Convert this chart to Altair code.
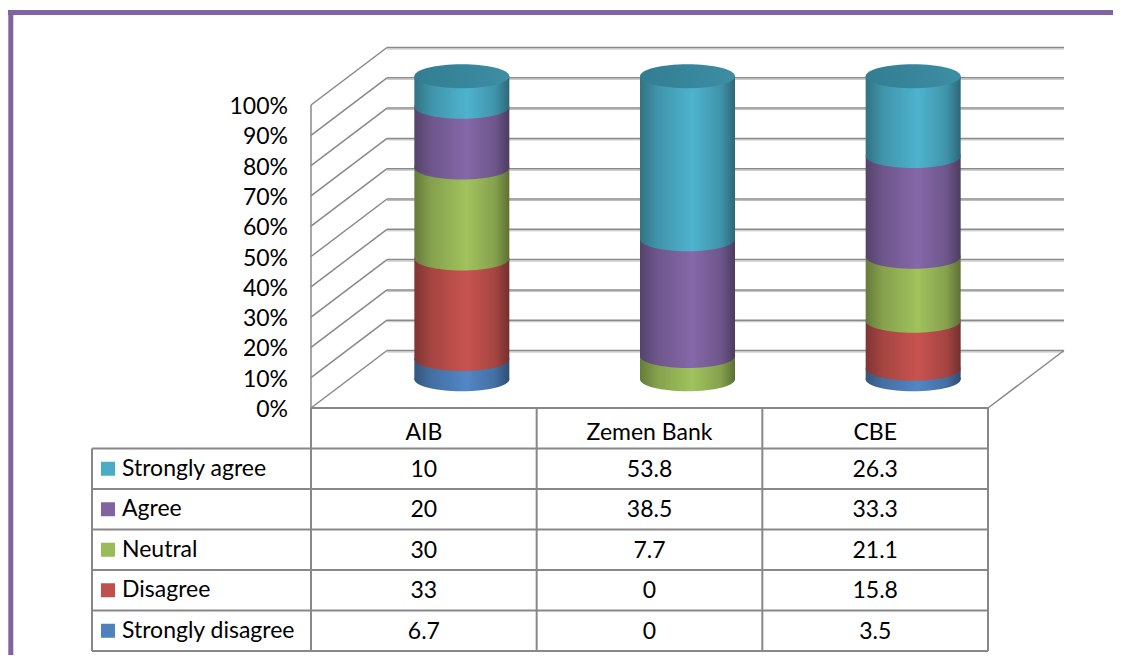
import altair as alt
import pandas as pd

# ---------------- data ----------------
banks = ["AIB", "Zemen Bank", "CBE"]
series_order = ["Strongly disagree", "Disagree", "Neutral", "Agree", "Strongly agree"]
strongly_disagree = [6.7, 0, 3.5]
disagree = [33, 0, 15.8]
neutral = [30, 7.7, 21.1]
agree = [20, 38.5, 33.3]
strongly_agree = [10, 53.8, 26.3]
tick_values = [0, 10, 20, 30, 40, 50, 60, 70, 80, 90, 100]
tick_labels = ["0%", "10%", "20%", "30%", "40%", "50%", "60%", "70%", "80%", "90%", "100%"]

series_values = {
    "Strongly disagree": strongly_disagree,
    "Disagree": disagree,
    "Neutral": neutral,
    "Agree": agree,
    "Strongly agree": strongly_agree,
}
series_colors = {
    "Strongly disagree": "#4F81BD",
    "Disagree": "#C0504D",
    "Neutral": "#9BBB59",
    "Agree": "#8064A2",
    "Strongly agree": "#4BACC6",
}
table_order = list(reversed(series_order))  # top row first

# ---------------- geometry / style ----------------
W, H = 1105, 647
UNIT = 225.67          # px per category column
PCT = 3.03             # px per percent
X0, Y0 = 303.0, 400.0  # px position of column 0 / 0%
XDOM = [-X0 / UNIT, (W - X0) / UNIT]
YDOM = [(Y0 - H) / PCT, Y0 / PCT]
DX = 76 / UNIT         # depth offset of back wall
DY = 57.5 / PCT
CX, CY = DX / 2, DY / 2
HALF = 47.5 / UNIT
ROW = 40.5 / PCT
LEG_X = -219 / UNIT
NCAT = len(banks)
FONT = "Lato"
FS = 23
LINE = "#888888"

xs = alt.Scale(domain=XDOM, nice=False, zero=False)
ys = alt.Scale(domain=YDOM, nice=False, zero=False)


def X(f):
    return alt.X(f, type="quantitative", scale=xs, axis=None)


def Y(f):
    return alt.Y(f, type="quantitative", scale=ys, axis=None)


def shade(hexc, f):
    r, g, b = int(hexc[1:3], 16), int(hexc[3:5], 16), int(hexc[5:7], 16)
    c = [max(0, min(255, int(round(v * f)))) for v in (r, g, b)]
    return "#%02x%02x%02x" % tuple(c)


def grad(hexc):
    return alt.Gradient(
        gradient="linear", x1=0, x2=1, y1=0, y2=0,
        stops=[
            alt.GradientStop(offset=0, color=shade(hexc, 0.66)),
            alt.GradientStop(offset=0.18, color=shade(hexc, 0.86)),
            alt.GradientStop(offset=0.55, color=shade(hexc, 1.04)),
            alt.GradientStop(offset=0.85, color=shade(hexc, 0.86)),
            alt.GradientStop(offset=1, color=shade(hexc, 0.6)),
        ],
    )


# ellipse symbol path (bezier)
r = 12 / 47.5
k = 0.5523
ELL = (
    f"M -1 0 C -1 {-r*k:.4f} {-k:.4f} {-r:.4f} 0 {-r:.4f} "
    f"C {k:.4f} {-r:.4f} 1 {-r*k:.4f} 1 0 "
    f"C 1 {r*k:.4f} {k:.4f} {r:.4f} 0 {r:.4f} "
    f"C {-k:.4f} {r:.4f} -1 {r*k:.4f} -1 0 Z"
)
ELL_SIZE = 95 * 95

# ---------------- derived tables ----------------
seg_rows = []
cap_rows = []
for i, b in enumerate(banks):
    total = sum(series_values[s][i] for s in series_order)
    cum = 0.0
    for s in series_order:
        v = series_values[s][i]
        lo = cum / total * 100
        cum += v
        hi = cum / total * 100
        if v > 0:
            seg_rows.append(dict(bank=b, series=s, xl=i + 0.5 + CX - HALF,
                                 xr=i + 0.5 + CX + HALF, xc=i + 0.5 + CX,
                                 lo=lo + CY, hi=hi + CY))
    cap_rows.append(dict(bank=b, xc=i + 0.5 + CX, y=100 + CY))
seg = pd.DataFrame(seg_rows)
caps = pd.DataFrame(cap_rows)

ticks = pd.DataFrame({"t": tick_values, "label": tick_labels})
ticks["x0"] = 0.0
ticks["xb"] = DX
ticks["xe"] = NCAT + DX
ticks["tb"] = ticks["t"] + DY

layers = []

# border (top & left)
border = pd.DataFrame({"d": [0]})
layers.append(alt.Chart(border).mark_rule(color="#8064A2", strokeWidth=5).encode(
    x=alt.value(0), x2=alt.value(W), y=alt.value(4.5)))
layers.append(alt.Chart(border).mark_rule(color="#8064A2", strokeWidth=5).encode(
    x=alt.value(2.8), y=alt.value(2), y2=alt.value(H)))

# walls
wall = pd.DataFrame({"x": [0.0], "y": [0.0], "y2": [100.0]})
layers.append(alt.Chart(wall).mark_rule(color=LINE, strokeWidth=1.5).encode(
    x=X("x"), y=Y("y"), y2=alt.Y2("y2")))
layers.append(alt.Chart(ticks).mark_rule(color=LINE, strokeWidth=1.5).encode(
    x=X("x0"), x2=alt.X2("xb"), y=Y("t"), y2=alt.Y2("tb")))
layers.append(alt.Chart(ticks).mark_rule(color="#bdbdbd", strokeWidth=1).encode(
    x=X("xb"), x2=alt.X2("xe"), y=Y("tb"), yOffset=alt.value(1.5)))
layers.append(alt.Chart(ticks).mark_rule(color="#8a8a8a", strokeWidth=1.5).encode(
    x=X("xb"), x2=alt.X2("xe"), y=Y("tb")))
floor = pd.DataFrame({"x": [NCAT + DX], "x2": [float(NCAT)], "y": [DY], "y2": [0.0]})
layers.append(alt.Chart(floor).mark_rule(color=LINE, strokeWidth=1.5).encode(
    x=X("x"), x2=alt.X2("x2"), y=Y("y"), y2=alt.Y2("y2")))

# y labels
layers.append(alt.Chart(ticks).mark_text(
    align="right", baseline="middle", dx=-23, dy=2, font=FONT, fontSize=FS, color="#000000"
).encode(x=X("x0"), y=Y("t"), text="label:N"))

# table grid
hl = []
for kk in range(7):
    hl.append(dict(x=0.0 if kk == 0 else LEG_X, x2=float(NCAT), y=-ROW * kk))
hl = pd.DataFrame(hl)
layers.append(alt.Chart(hl).mark_rule(color=LINE, strokeWidth=2).encode(
    x=X("x"), x2=alt.X2("x2"), y=Y("y")))
vl = [dict(x=LEG_X, y=-ROW, y2=-ROW * 6)]
for c in range(NCAT + 1):
    vl.append(dict(x=float(c), y=0.0, y2=-ROW * 6))
vl = pd.DataFrame(vl)
layers.append(alt.Chart(vl).mark_rule(color=LINE, strokeWidth=2).encode(
    x=X("x"), y=Y("y"), y2=alt.Y2("y2")))

# table header
hdr = pd.DataFrame({"bank": banks, "x": [i + 0.5 for i in range(NCAT)], "y": [-ROW / 2] * NCAT})
layers.append(alt.Chart(hdr).mark_text(
    align="center", baseline="middle", dy=5, font=FONT, fontSize=FS, color="#000000"
).encode(x=X("x"), y=Y("y"), text="bank:N"))

# table values
vals = []
for rk, s in enumerate(table_order):
    for i in range(NCAT):
        vals.append(dict(x=i + 0.5, y=-ROW * (rk + 1.5), label=f"{series_values[s][i]:g}"))
vals = pd.DataFrame(vals)
layers.append(alt.Chart(vals).mark_text(
    align="center", baseline="middle", dy=1, font=FONT, fontSize=FS, color="#000000"
).encode(x=X("x"), y=Y("y"), text="label:N"))

# legend column
leg = pd.DataFrame({
    "series": table_order,
    "xs": [-203 / UNIT] * len(table_order),
    "xt": [-189 / UNIT] * len(table_order),
    "y": [-ROW * (rk + 1.5) for rk in range(len(table_order))],
})
layers.append(alt.Chart(leg).mark_square(size=196, opacity=1, filled=True).encode(
    x=X("xs"), y=Y("y"),
    color=alt.Color("series:N", scale=alt.Scale(domain=series_order,
                                                 range=[series_colors[s] for s in series_order]),
                    legend=None)))
layers.append(alt.Chart(leg).mark_text(
    align="left", baseline="middle", font=FONT, fontSize=FS, color="#000000"
).encode(x=X("xt"), y=Y("y"), text="series:N"))

# cylinders
for s in series_order:
    sub = seg[seg["series"] == s]
    if len(sub) == 0:
        continue
    g = grad(series_colors[s])
    layers.append(alt.Chart(sub).mark_bar(color=g, strokeWidth=0).encode(
        x=X("xl"), x2=alt.X2("xr"), y=Y("lo"), y2=alt.Y2("hi")))
    layers.append(alt.Chart(sub).mark_point(
        shape=ELL, size=ELL_SIZE, filled=True, opacity=1, color=g, strokeWidth=0
    ).encode(x=X("xc"), y=Y("lo")))

cap_grad = alt.Gradient(
    gradient="linear", x1=0, x2=1, y1=0, y2=0,
    stops=[alt.GradientStop(offset=0, color="#327d91"),
           alt.GradientStop(offset=1, color="#3d8ea4")])
layers.append(alt.Chart(caps).mark_point(
    shape=ELL, size=ELL_SIZE, filled=True, opacity=1, color=cap_grad, strokeWidth=0
).encode(x=X("xc"), y=Y("y")))

chart = alt.layer(*layers).properties(
    width=W, height=H, padding=0, autosize=alt.AutoSizeParams(type="none")
).configure_view(stroke=None)

chart.save("out.html", embed_options={"renderer": "svg", "actions": False})
